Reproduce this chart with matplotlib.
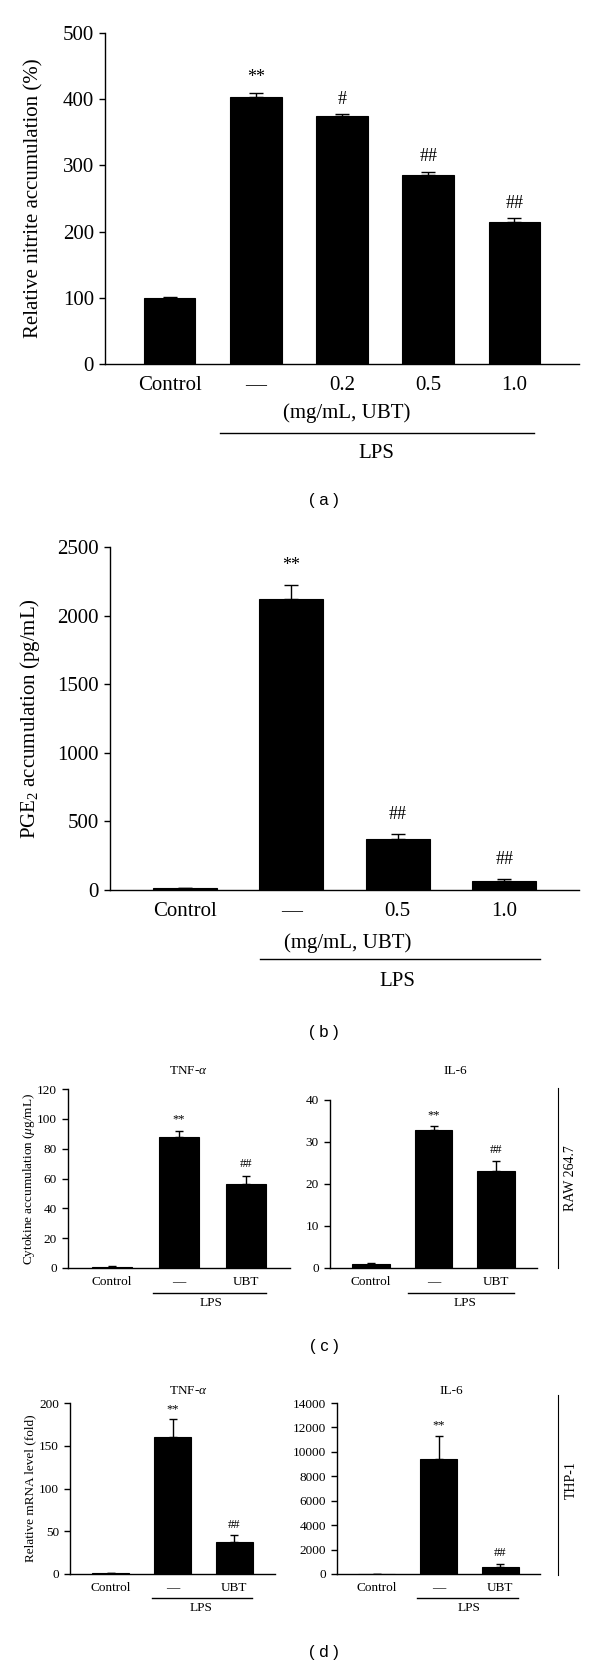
import numpy as np
import matplotlib
matplotlib.use("Agg")
import matplotlib.pyplot as plt
from matplotlib.transforms import blended_transform_factory

plt.rcParams['font.family'] = ['Liberation Serif', 'DejaVu Serif']
plt.rcParams['mathtext.fontset'] = 'custom'
plt.rcParams['mathtext.rm'] = 'Liberation Serif'
plt.rcParams['mathtext.it'] = 'Liberation Serif:italic'

# ---------------- DATA ----------------
# (a) nitrite
a_cats = ["Control", "\u2014", "0.2", "0.5", "1.0"]
a_vals = [100, 403, 375, 286, 215]
a_errs = [1.5, 6, 2, 4, 5]
a_marks = ["", "**", "#", "##", "##"]

# (b) PGE2
b_cats = ["Control", "\u2014", "0.5", "1.0"]
b_vals = [15, 2121, 372, 66]
b_errs = [3, 102, 36, 14]
b_marks = ["", "**", "##", "##"]

# (c) cytokines, RAW 264.7
c_cats = ["Control", "\u2014", "UBT"]
c_tnf_vals = [1, 87.5, 56.5]
c_tnf_errs = [0.3, 4.5, 5.5]
c_il6_vals = [1.0, 32.8, 23.0]
c_il6_errs = [0.1, 1.0, 2.4]
c_marks = ["", "**", "##"]

# (d) mRNA, THP-1
d_tnf_vals = [1, 160.5, 37.5]
d_tnf_errs = [0.3, 21, 8]
d_il6_vals = [1, 9450, 600]
d_il6_errs = [0, 1850, 180]
d_marks = ["", "**", "##"]
# --------------------------------------

W, H = 600, 1668
fig = plt.figure(figsize=(W / 100, H / 100), dpi=100)


def px_axes(left, right, top, bottom):
    # pixel box -> figure fraction axes
    return fig.add_axes([left / W, 1 - bottom / H, (right - left) / W, (bottom - top) / H])


def draw_panel(ax, cats, vals, errs, marks, ymax, ystep, xpad, tick_fs, mark_fs,
               mark_off, capsize, tick_pad):
    x = np.arange(len(cats))
    ax.bar(x, vals, width=0.6, color="black", edgecolor="black", linewidth=0.8, zorder=2)
    ax.errorbar(x, vals, yerr=[np.zeros(len(errs)), errs], fmt="none", ecolor="black",
                elinewidth=1, capsize=capsize, capthick=1, zorder=3)
    for xi, v, e, m in zip(x, vals, errs, marks):
        if m:
            ax.annotate(m, (xi, v + e), xytext=(0, mark_off), textcoords="offset points",
                        ha="center", va="center", fontsize=mark_fs)
    ax.set_xlim(-xpad, len(cats) - 1 + xpad)
    ax.set_ylim(0, ymax)
    ax.set_yticks(np.arange(0, ymax + 1, ystep))
    ax.set_xticks(x)
    ax.set_xticklabels(cats)
    ax.tick_params(axis="x", length=0, pad=tick_pad, labelsize=tick_fs)
    ax.tick_params(axis="y", direction="out", length=4, width=1, labelsize=tick_fs, pad=4)
    for s in ["top", "right"]:
        ax.spines[s].set_visible(False)
    for s in ["left", "bottom"]:
        ax.spines[s].set_linewidth(1)


def fy(p):
    return 1 - p / H


def group_label(ax, x0, x1, y_line, x_lps, y_lps, fs):
    tr = blended_transform_factory(ax.transData, fig.transFigure)
    ax.plot([x0, x1], [fy(y_line), fy(y_line)], color="black", lw=1, transform=tr, clip_on=False)
    ax.text(x_lps, fy(y_lps), "LPS", transform=tr, ha="center", va="center", fontsize=fs)


def panel_tag(txt, y):
    fig.text(324 / W, fy(y), txt, ha="center", va="center", fontsize=12,
             family=["Liberation Sans", "DejaVu Sans"])


# ---- (a) ----
ax = px_axes(105, 579, 33, 364)
draw_panel(ax, a_cats, a_vals, a_errs, a_marks, 500, 100, 0.75, 15, 13, 11, 5, 9)
ax.set_ylabel("Relative nitrite accumulation (%)", fontsize=15)
ax.yaxis.set_label_coords(-0.13, 0.5)
tr = blended_transform_factory(ax.transData, fig.transFigure)
ax.text(2.05, fy(413), "(mg/mL, UBT)", transform=tr, ha="center", va="center", fontsize=15)
group_label(ax, 0.59, 4.23, 433, 2.4, 453, 15)
panel_tag("( a )", 500)

# ---- (b) ----
ax = px_axes(110, 579, 547, 890)
draw_panel(ax, b_cats, b_vals, b_errs, b_marks, 2500, 500, 0.7, 15, 13, 14, 5, 9)
ax.set_ylabel("PGE$_2$ accumulation (pg/mL)", fontsize=15)
ax.yaxis.set_label_coords(-0.145, 0.5)
tr = blended_transform_factory(ax.transData, fig.transFigure)
ax.text(1.53, fy(943), "(mg/mL, UBT)", transform=tr, ha="center", va="center", fontsize=15)
group_label(ax, 0.71, 3.33, 959, 2.0, 982, 15)
panel_tag("( b )", 1032)

# ---- (c) ----
ax = px_axes(68, 290, 1089, 1268)
draw_panel(ax, c_cats, c_tnf_vals, c_tnf_errs, c_marks, 120, 20, 0.65, 9.5, 9, 8, 3, 6)
ax.set_ylabel("Cytokine accumulation ($\\mu$g/mL)", fontsize=9.5)
ax.yaxis.set_label_coords(-0.14, 0.5)
group_label(ax, 0.62, 2.30, 1293, 1.48, 1303, 9.5)
fig.text(188 / W, fy(1071), "TNF-$\\alpha$", ha="center", va="center", fontsize=9.5)

ax = px_axes(330, 537, 1100, 1268)
draw_panel(ax, c_cats, c_il6_vals, c_il6_errs, c_marks, 40, 10, 0.65, 9.5, 9, 8, 3, 6)
group_label(ax, 0.6, 2.29, 1293, 1.5, 1303, 9.5)
fig.text(455 / W, fy(1071), "IL-6", ha="center", va="center", fontsize=9.5)

fig.add_artist(plt.Line2D([558 / W, 558 / W], [fy(1088), fy(1268)], color="black", lw=0.8))
fig.text(571 / W, fy(1178), "RAW 264.7", rotation=90, ha="center", va="center", fontsize=10)
panel_tag("( c )", 1347)

# ---- (d) ----
ax = px_axes(70, 275, 1403, 1574)
draw_panel(ax, c_cats, d_tnf_vals, d_tnf_errs, d_marks, 200, 50, 0.66, 9.5, 9, 7, 3, 6)
ax.set_ylabel("Relative mRNA level (fold)", fontsize=9.5)
ax.yaxis.set_label_coords(-0.166, 0.5)
group_label(ax, 0.66, 2.29, 1598, 1.47, 1608, 9.5)
fig.text(188 / W, fy(1391), "TNF-$\\alpha$", ha="center", va="center", fontsize=9.5)

ax = px_axes(337, 540, 1403, 1574)
draw_panel(ax, c_cats, d_il6_vals, d_il6_errs, d_marks, 14000, 2000, 0.64, 9.5, 9, 8, 3, 6)
group_label(ax, 0.65, 2.28, 1598, 1.5, 1608, 9.5)
fig.text(451 / W, fy(1391), "IL-6", ha="center", va="center", fontsize=9.5)

fig.add_artist(plt.Line2D([558 / W, 558 / W], [fy(1395), fy(1575)], color="black", lw=0.8))
fig.text(571 / W, fy(1480), "THP-1", rotation=90, ha="center", va="center", fontsize=10)
panel_tag("( d )", 1652)

fig.savefig("out.png", dpi=100)
